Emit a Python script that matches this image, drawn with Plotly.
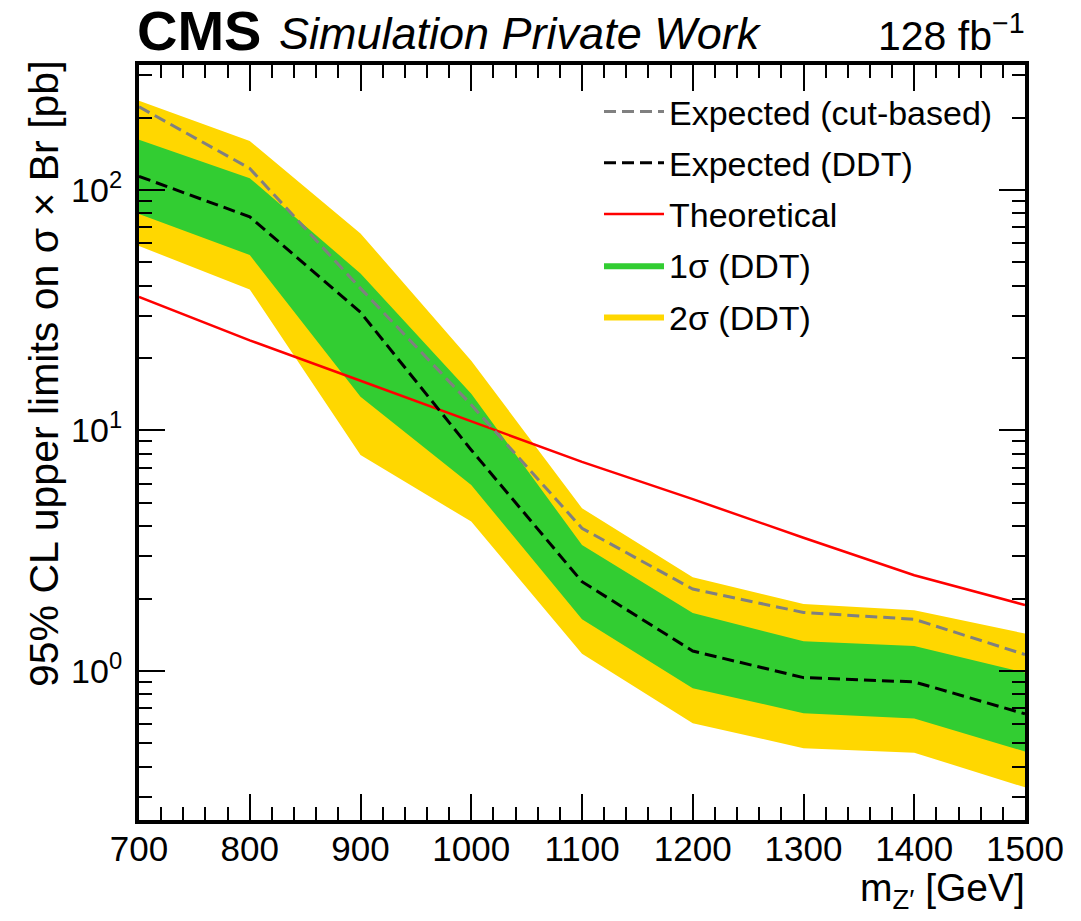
import plotly.graph_objects as go

# ---------------- data ----------------
mass = [700, 800, 900, 1000, 1100, 1200, 1300, 1400, 1500]
exp_cut = [222, 123, 39.0, 12.8, 3.92, 2.19, 1.75, 1.64, 1.17]
exp_ddt = [114, 77.4, 31.0, 8.3, 2.35, 1.21, 0.938, 0.90, 0.663]
band1_hi = [162, 112, 45.0, 14.2, 3.34, 1.74, 1.33, 1.27, 0.984]
band1_lo = [79.5, 53.7, 13.8, 5.93, 1.64, 0.847, 0.667, 0.634, 0.462]
band2_hi = [235, 160, 66.0, 19.5, 4.75, 2.45, 1.90, 1.79, 1.43]
band2_lo = [58.5, 38.6, 7.9, 4.18, 1.18, 0.606, 0.477, 0.457, 0.328]
theory = [35.9, 23.7, 16.1, 10.9, 7.4, 5.18, 3.58, 2.5, 1.88]

y_tickvals = [1, 10, 100]
y_ticktext = ["10<sup>0</sup>", "10<sup>1</sup>", "10<sup>2</sup>"]
x_tickvals = [700, 800, 900, 1000, 1100, 1200, 1300, 1400, 1500]

# ---------------- layout geometry ----------------
W, H = 1081, 921
L, R, T, B = 139, 1025, 65, 820
FONT = "Liberation Sans, Arial, Helvetica, sans-serif"


def px(X):
    return (X - L) / (R - L)


def py(Y):
    return (B - Y) / (B - T)


YELLOW = "#FFD700"
GREEN = "#32CD32"

fig = go.Figure()

fig.add_trace(go.Scatter(x=mass, y=band2_lo, mode="lines", line=dict(width=0),
                         showlegend=False, hoverinfo="skip", legendgroup="g5"))
fig.add_trace(go.Scatter(x=mass, y=band2_hi, mode="lines", line=dict(width=0),
                         fill="tonexty", fillcolor=YELLOW, name="2σ (DDT)", legendrank=5,
                         legendgroup="g5"))
fig.add_trace(go.Scatter(x=mass, y=band1_lo, mode="lines", line=dict(width=0),
                         showlegend=False, hoverinfo="skip", legendgroup="g4"))
fig.add_trace(go.Scatter(x=mass, y=band1_hi, mode="lines", line=dict(width=0),
                         fill="tonexty", fillcolor=GREEN, name="1σ (DDT)", legendrank=4,
                         legendgroup="g4"))
fig.add_trace(go.Scatter(x=mass, y=theory, mode="lines",
                         line=dict(color="#FF0000", width=2.5), name="Theoretical", legendrank=3,
                         legendgroup="g3"))
fig.add_trace(go.Scatter(x=mass, y=exp_cut, mode="lines",
                         line=dict(color="#808080", width=3, dash="12px,6px"),
                         name="Expected (cut-based)", legendrank=1, legendgroup="g1"))
fig.add_trace(go.Scatter(x=mass, y=exp_ddt, mode="lines",
                         line=dict(color="#000000", width=3, dash="12px,6px"),
                         name="Expected (DDT)", legendrank=2, legendgroup="g2"))

minor_y = [m * 10 ** e for e in (-1, 0, 1, 2) for m in range(2, 10)]

fig.update_layout(
    width=W, height=H,
    margin=dict(l=L, r=W - R, t=T, b=H - B, pad=0),
    paper_bgcolor="white", plot_bgcolor="white",
    font=dict(family=FONT, size=34, color="black"),
    showlegend=True,
    legend=dict(x=px(599), y=py(83), xanchor="left", yanchor="top",
                bgcolor="rgba(0,0,0,0)", borderwidth=0,
                font=dict(size=34), tracegroupgap=4, itemwidth=60,
                traceorder="grouped"),
    xaxis=dict(range=[700, 1500], tickvals=x_tickvals,
               ticks="inside", ticklen=26, tickwidth=2, tickcolor="black",
               showline=True, linewidth=4, linecolor="black", mirror="allticks",
               showgrid=False, zeroline=False,
               tickfont=dict(size=35), ticklabelstandoff=-5,
               minor=dict(ticks="inside", ticklen=13, tickwidth=1.5, dtick=20,
                          tickcolor="black", showgrid=False)),
    yaxis=dict(type="log", range=[-0.62, 2.52], tickvals=y_tickvals, ticktext=y_ticktext,
               ticks="inside", ticklen=26, tickwidth=2, tickcolor="black",
               showline=True, linewidth=4, linecolor="black", mirror="allticks",
               showgrid=False, zeroline=False,
               tickfont=dict(size=34), ticklabelstandoff=6,
               minor=dict(ticks="inside", ticklen=13, tickwidth=1.5, tickvals=minor_y,
                          tickcolor="black", showgrid=False)),
)

ann = []
ann.append(dict(text="<b>CMS</b>", x=px(135), y=py(64), xref="paper", yref="paper",
                xanchor="left", yanchor="bottom", showarrow=False,
                font=dict(family=FONT, size=56)))
ann.append(dict(text="<i>Simulation Private Work</i>", x=px(277), y=py(61), xref="paper", yref="paper",
                xanchor="left", yanchor="bottom", showarrow=False,
                font=dict(family=FONT, size=45)))
ann.append(dict(text="128 fb<sup>−1</sup>", x=px(1027), y=py(61), xref="paper", yref="paper",
                xanchor="right", yanchor="bottom", showarrow=False,
                font=dict(family=FONT, size=41)))
ann.append(dict(text="m<sub>Z′</sub> [GeV]", x=px(1027), y=py(890), xref="paper", yref="paper",
                xanchor="right", yanchor="middle", showarrow=False,
                font=dict(family=FONT, size=39)))
ann.append(dict(text="95% CL upper limits on σ × Br [pb]", x=px(44), y=py(374),
                xref="paper", yref="paper", xanchor="center", yanchor="middle",
                textangle=-90, showarrow=False, font=dict(family=FONT, size=41)))
fig.update_layout(annotations=ann)

fig.write_html("out.html")
